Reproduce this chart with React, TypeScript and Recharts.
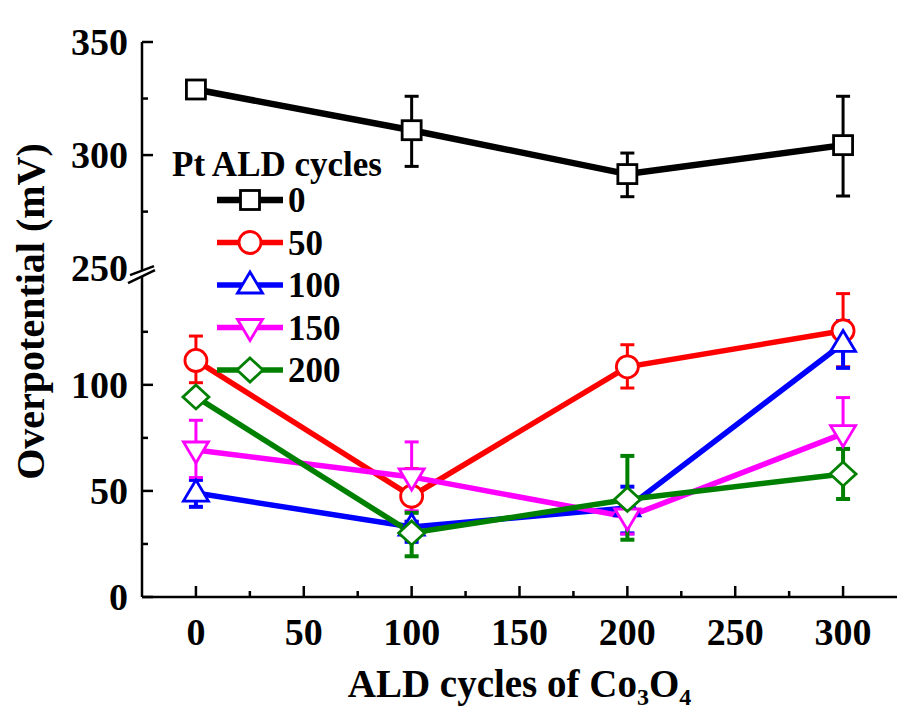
import React from "react";
import { LineChart, Line, XAxis, YAxis, ErrorBar, Legend, Label } from "recharts";

// x: ALD cycles of Co3O4
const aldCycles = [0, 100, 200, 300];
// legend names (Pt ALD cycles)
const ptLabels = ["0", "50", "100", "150", "200"];

// overpotential (mV)
const pt0 = [329, 311, 291.6, 304.4];
const pt50 = [111.5, 47.5, 108.5, 125.5];
const pt100 = [49, 33, 42, 119.5];
const pt150 = [69.3, 56.6, 37.7, 77];
const pt200 = [94.3, 30.2, 46, 58];

// error bars as [below, above]
const pt0Err = [[0, 0], [16, 15], [10, 9.3], [22.5, 21.6]];
const pt50Err = [[10.5, 11.5], [12, 13], [10, 10.4], [17, 17.5]];
const pt100Err = [[6.5, 6.2], [7, 2.5], [12, 10], [11.5, 10.5]];
const pt150Err = [[13, 14], [16, 16.5], [8, 8], [17, 17]];
const pt200Err = [[1.5, 1.5], [11, 9.5], [19, 20.5], [11.8, 11.8]];

const yMajor = [0, 50, 100, 250, 300, 350];
const yMinor = [25, 75, 125, 275, 325];
const xMajor = [0, 50, 100, 150, 200, 250, 300];
const xMinor = [25, 75, 125, 175, 225, 275];

// broken y axis: 0-155 below the break, 250-350 above (upper part drawn a bit taller)
const LOW_TOP = 155;
const HIGH_BOTTOM = 250;
const STRETCH = 1.066;
const toAxis = (v: number) => (v <= LOW_TOP ? v : LOW_TOP + (v - HIGH_BOTTOM) * STRETCH);

const FONT = '"Liberation Serif", "Times New Roman", serif';

type Shape = "square" | "circle" | "up" | "down" | "diamond";

const series = [
  { key: "pt0", name: ptLabels[0], values: pt0, errors: pt0Err, color: "#000000", shape: "square" as Shape, width: 6.5, errWidth: 3 },
  { key: "pt50", name: ptLabels[1], values: pt50, errors: pt50Err, color: "#FF0000", shape: "circle" as Shape, width: 5.5, errWidth: 3 },
  { key: "pt100", name: ptLabels[2], values: pt100, errors: pt100Err, color: "#0000FF", shape: "up" as Shape, width: 5.5, errWidth: 4 },
  { key: "pt150", name: ptLabels[3], values: pt150, errors: pt150Err, color: "#FF00FF", shape: "down" as Shape, width: 5.5, errWidth: 3 },
  { key: "pt200", name: ptLabels[4], values: pt200, errors: pt200Err, color: "#008000", shape: "diamond" as Shape, width: 5.5, errWidth: 4 },
];

const data = aldCycles.map((c, i) => {
  const row: any = { cycles: c };
  series.forEach((s) => {
    const v = s.values[i];
    const k = v > LOW_TOP ? STRETCH : 1;
    row[s.key] = toAxis(v);
    row[s.key + "Err"] = [s.errors[i][0] * k, s.errors[i][1] * k];
  });
  return row;
});

const yAll = [...yMajor, ...yMinor];
const yTicks = yAll.map(toAxis).sort((a, b) => a - b);
const xTicks = [...xMajor, ...xMinor].sort((a, b) => a - b);

function Marker({ shape, cx, cy, color }: { shape: Shape; cx: number; cy: number; color: string }) {
  const common = { fill: "#fff", stroke: color, strokeWidth: 2.8 };
  switch (shape) {
    case "square":
      return <rect x={cx - 9.5} y={cy - 9.5} width={19} height={19} {...common} />;
    case "circle":
      return <circle cx={cx} cy={cy} r={11} {...common} />;
    case "up":
      return <polygon points={`${cx},${cy - 13} ${cx + 12.5},${cy + 8} ${cx - 12.5},${cy + 8}`} {...common} />;
    case "down":
      return <polygon points={`${cx},${cy + 13} ${cx + 12.5},${cy - 8} ${cx - 12.5},${cy - 8}`} {...common} />;
    default:
      return <polygon points={`${cx},${cy - 12} ${cx + 13},${cy} ${cx},${cy + 12} ${cx - 13},${cy}`} {...common} />;
  }
}

const renderDot = (shape: Shape, color: string) => (p: any) => (
  <Marker key={`${shape}-${p.index}`} shape={shape} cx={p.cx} cy={p.cy} color={color} />
);

const YTick = (props: any) => {
  const { x, y, payload } = props;
  const orig = yAll.find((v) => Math.abs(toAxis(v) - payload.value) < 1e-6) ?? 0;
  const major = yMajor.includes(orig);
  return (
    <g>
      {orig === HIGH_BOTTOM ? (
        <g>
          <polygon points={`${x - 13},${y + 8} ${x + 12},${y - 2} ${x + 12},${y + 2} ${x - 13},${y + 14}`} fill="#fff" />
          <line x1={x - 12} y1={y + 7} x2={x + 12} y2={y - 2} stroke="#000" strokeWidth={2.5} />
          <line x1={x - 14} y1={y + 15} x2={x + 13} y2={y + 2} stroke="#000" strokeWidth={2.5} />
        </g>
      ) : (
        <line x1={x} x2={x + (major ? 11 : 6)} y1={y} y2={y} stroke="#000" strokeWidth={2.5} />
      )}
      {major && (
        <text x={x - 14} y={y} dy="0.35em" textAnchor="end" fontFamily={FONT} fontWeight="bold" fontSize={38} fill="#000">
          {orig}
        </text>
      )}
    </g>
  );
};

const XTick = (props: any) => {
  const { x, y, payload } = props;
  const major = xMajor.includes(payload.value);
  return (
    <g>
      <line x1={x} x2={x} y1={y} y2={y - (major ? 11 : 6)} stroke="#000" strokeWidth={2.5} />
      {major && (
        <text x={x} y={y + 48} textAnchor="middle" fontFamily={FONT} fontWeight="bold" fontSize={38} fill="#000">
          {payload.value}
        </text>
      )}
    </g>
  );
};

const renderYTitle = (p: any) => {
  const vb = p.viewBox;
  const cx = vb.x + 30;
  const cy = vb.y + vb.height / 2 - 8;
  return (
    <text x={cx} y={cy} transform={`rotate(-90 ${cx} ${cy})`} textAnchor="middle" dy="0.35em" fontFamily={FONT} fontWeight="bold" fontSize={40} fill="#000">
      Overpotential (mV)
    </text>
  );
};

const renderXTitle = (p: any) => {
  const vb = p.viewBox;
  const cx = vb.x + vb.width / 2;
  const by = vb.y + 100;
  return (
    <text x={cx} y={by} textAnchor="middle" fontFamily={FONT} fontWeight="bold" fontSize={39} fill="#000">
      ALD cycles of Co
      <tspan dy={8} fontSize={24}>3</tspan>
      <tspan dy={-8}>O</tspan>
      <tspan dy={8} fontSize={24}>4</tspan>
    </text>
  );
};

const LegendBox = () => (
  <svg width={260} height={250} style={{ display: "block" }}>
    <text x={22} y={36} fontFamily={FONT} fontWeight="bold" fontSize={35} fill="#000">
      Pt ALD cycles
    </text>
    {series.map((s, i) => {
      const cy = 60 + i * 42.5;
      return (
        <g key={s.key}>
          <line x1={67} x2={133} y1={cy} y2={cy} stroke={s.color} strokeWidth={s.width} />
          <Marker shape={s.shape} cx={100} cy={cy} color={s.color} />
          <text x={138} y={cy + 12} fontFamily={FONT} fontWeight="bold" fontSize={35} fill="#000">
            {s.name}
          </text>
        </g>
      );
    })}
  </svg>
);

export default function App() {
  return (
    <div style={{ position: "absolute", left: 0, top: 0, width: 916, height: 711, background: "#fff" }}>
      <LineChart width={916} height={711} data={data} margin={{ top: 42, right: 19, left: 0, bottom: 0 }}>
        <XAxis
          dataKey="cycles"
          type="number"
          domain={[-25, 325]}
          ticks={xTicks}
          interval={0}
          height={114}
          tickSize={0}
          tickMargin={0}
          tickLine={false}
          tick={<XTick />}
          axisLine={{ stroke: "#000", strokeWidth: 2.5 }}
        >
          <Label content={renderXTitle} />
        </XAxis>
        <XAxis
          xAxisId="top"
          orientation="top"
          dataKey="cycles"
          type="number"
          domain={[-25, 325]}
          height={0}
          tick={false}
          tickLine={false}
          axisLine={{ stroke: "#000", strokeWidth: 2.5 }}
        />
        <YAxis
          type="number"
          domain={[0, toAxis(350)]}
          ticks={yTicks}
          interval={0}
          width={142}
          tickSize={0}
          tickMargin={0}
          tickLine={false}
          tick={<YTick />}
          axisLine={{ stroke: "#000", strokeWidth: 2.5 }}
        >
          <Label content={renderYTitle} />
        </YAxis>
        <YAxis
          yAxisId="right"
          orientation="right"
          type="number"
          domain={[0, toAxis(350)]}
          width={0}
          tick={false}
          tickLine={false}
          axisLine={{ stroke: "#000", strokeWidth: 2.5 }}
        />
        <Legend
          layout="vertical"
          align="center"
          verticalAlign="middle"
          content={() => <LegendBox />}
          wrapperStyle={{ left: 150, top: 140, width: 260 }}
        />
        {series.map((s) => (
          <Line
            key={s.key}
            type="linear"
            dataKey={s.key}
            name={s.name}
            stroke={s.color}
            strokeWidth={s.width}
            dot={renderDot(s.shape, s.color)}
            activeDot={false}
            isAnimationActive={false}
          >
            <ErrorBar dataKey={s.key + "Err"} direction="y" width={7} stroke={s.color} strokeWidth={s.errWidth} />
          </Line>
        ))}
      </LineChart>
    </div>
  );
}
